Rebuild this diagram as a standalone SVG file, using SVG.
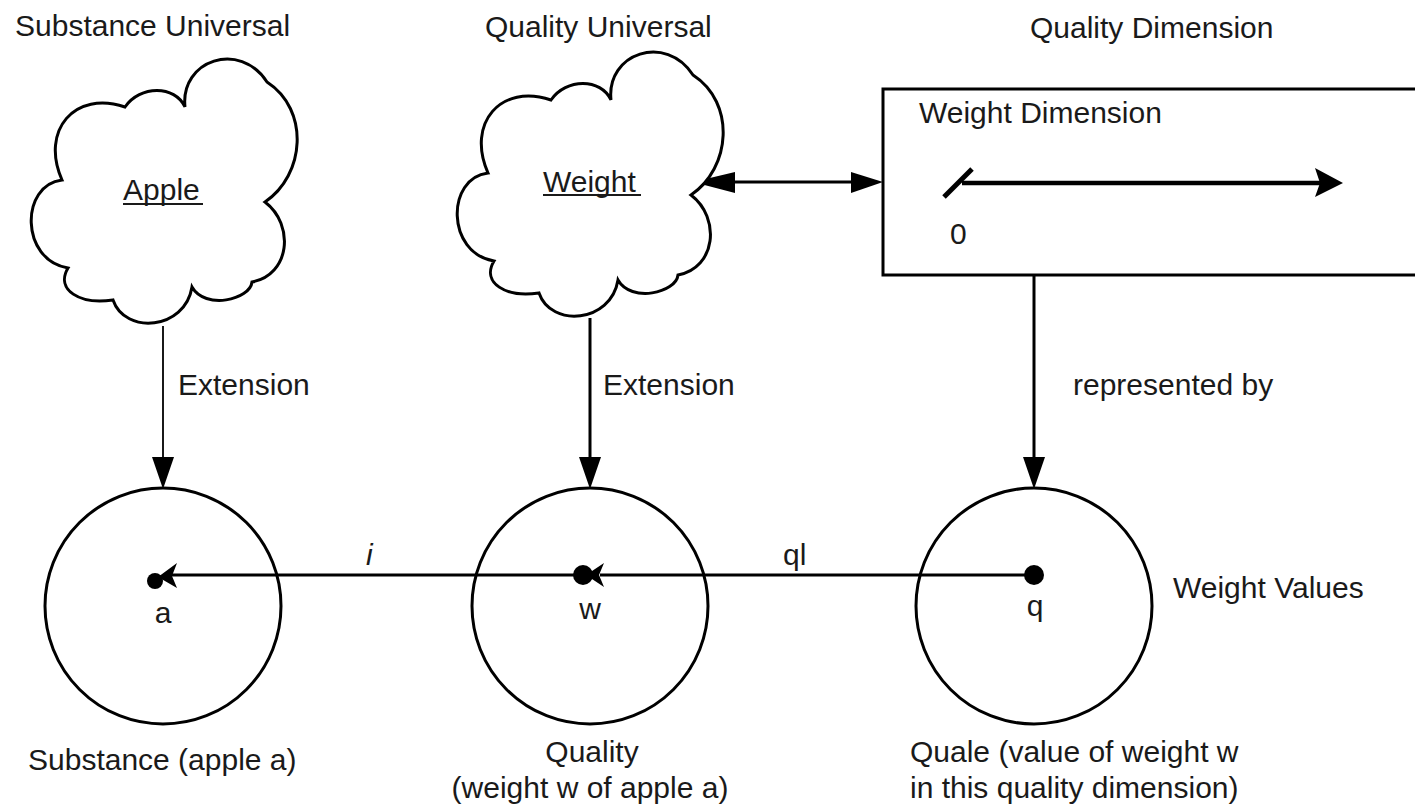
<svg xmlns="http://www.w3.org/2000/svg" width="1415" height="806" viewBox="0 0 1415 806">
  <defs>
    <style>
      text { font-family: "Liberation Sans", Arial, sans-serif; font-size: 30px; fill: #1a1a1a; }
      .mid { text-anchor: middle; }
      .ln { fill: none; stroke: #000; stroke-width: 3; }
      .thin { fill: none; stroke: #000; stroke-width: 1.8; }
      .shape { fill: #fff; stroke: #000; stroke-width: 3; }
      .head { fill: #000; stroke: none; }
      .ul { stroke: #1a1a1a; stroke-width: 2.2; }
    </style>
    <path id="cloud" d="M185,107 C180,60 240,40 267,82 C310,110 305,175 265,202 C295,225 290,275 252,282 C250,300 205,310 192,287 C185,330 125,335 113,300 C80,305 55,290 68,268 C20,260 20,185 62,180 C40,130 75,90 125,107 C140,85 175,85 185,107 Z"/>
  </defs>
  <rect width="1415" height="806" fill="#fff"/>

  <!-- titles -->
  <text x="15" y="36">Substance Universal</text>
  <text x="485" y="37">Quality Universal</text>
  <text x="1030" y="38">Quality Dimension</text>

  <g id="connectors">
    <!-- Apple extension -->
    <line class="thin" x1="163" y1="326" x2="163" y2="460"/>
    <polygon class="head" points="152,457 174,457 163,489"/>
    <!-- Weight extension -->
    <line class="ln" x1="590" y1="318" x2="590" y2="460"/>
    <polygon class="head" points="579,457 601,457 590,489"/>
    <!-- represented by -->
    <line class="ln" x1="1034" y1="275" x2="1034" y2="460"/>
    <polygon class="head" points="1023,457 1045,457 1034,489"/>
    <!-- double arrow -->
    <line class="ln" x1="720" y1="182" x2="860" y2="182"/>
    <polygon class="head" points="693,182 735,172 735,193"/>
    <polygon class="head" points="883,182 851,172 851,193"/>
    <!-- ql : q -> w -->
    <line class="ln" x1="1034" y1="575" x2="600" y2="575"/>
    <polygon class="head" points="586,575 604,563 599,575 604,587"/>
    <!-- i : w -> a -->
    <line class="ln" x1="583" y1="575" x2="172" y2="575"/>
    <polygon class="head" points="158,577 177,563 172,576 177,588"/>
    <text x="366" y="565" style="font-style:italic">i</text>
    <text x="783" y="565">ql</text>
    <text x="178" y="395">Extension</text>
    <text x="603" y="395">Extension</text>
    <text x="1073" y="395">represented by</text>
  </g>

  <g id="apple">
    <use href="#cloud" class="shape"/>
    <text x="123" y="200">Apple</text>
    <line class="ul" x1="123" y1="204" x2="203" y2="204"/>
  </g>

  <g id="weight">
    <use href="#cloud" class="shape" transform="translate(426,-7)"/>
    <text x="543" y="192">Weight</text>
    <line class="ul" x1="543" y1="195" x2="641" y2="195"/>
  </g>

  <g id="weight-dimension">
    <rect class="shape" x="883" y="89" width="540" height="186"/>
    <text x="919" y="123">Weight Dimension</text>
    <line x1="962" y1="183" x2="1320" y2="183" stroke="#000" stroke-width="4.5"/>
    <polygon class="head" points="1343,183 1315,168 1320,183 1315,197"/>
    <line x1="944" y1="197" x2="972" y2="169" stroke="#000" stroke-width="5"/>
    <text x="950" y="244">0</text>
  </g>

  <g id="substance">
    <circle cx="163" cy="606" r="118" class="ln"/>
    <circle cx="155" cy="581" r="8" class="head"/>
    <text x="163" y="623" class="mid">a</text>
    <text x="28" y="770">Substance (apple a)</text>
  </g>

  <g id="quality">
    <circle cx="590" cy="606" r="118" class="ln"/>
    <circle cx="583" cy="575" r="10" class="head"/>
    <text x="590" y="619" class="mid">w</text>
    <text x="592" y="762" class="mid">Quality</text>
    <text x="590" y="798" class="mid">(weight w of apple a)</text>
  </g>

  <g id="quale">
    <circle cx="1034" cy="606" r="118" class="ln"/>
    <circle cx="1034" cy="575" r="10" class="head"/>
    <text x="1035" y="616" class="mid">q</text>
    <text x="1173" y="598">Weight Values</text>
    <text x="910" y="762">Quale (value of weight w</text>
    <text x="910" y="798">in this quality dimension)</text>
  </g>
</svg>
